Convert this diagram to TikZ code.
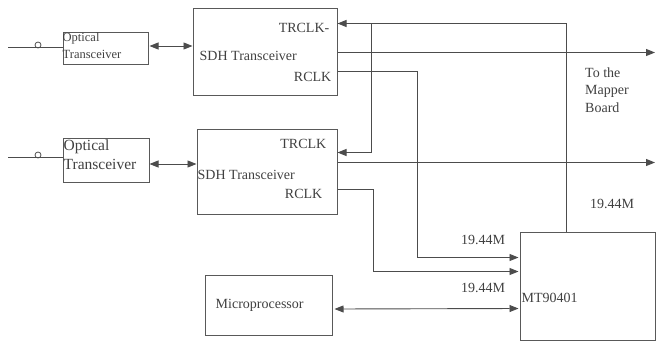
\documentclass[tikz,border=0pt]{standalone}
\usepackage{fontspec}
\setmainfont{Liberation Serif}
\usetikzlibrary{%
	positioning,
	calc,
	arrows.meta
}

\begin{document}
\begin{tikzpicture}[x=1pt,y=-1pt,
		SBox/.style={draw=black!65,line width=1pt,shape=rectangle,inner sep=0pt},
		SText/.style={font=\fontsize{14}{17.5}\selectfont,text=black!75,inner sep=1pt},
		OText/.style={SText,align=left,anchor=north west},
		wire/.style={draw=black!70,line width=0.9pt},
		tip/.style={wire,-{Triangle[length=9pt,width=7pt]}},
		dtip/.style={wire,{Triangle[length=9pt,width=7pt]}-{Triangle[length=9pt,width=7pt]}}
	]
	\useasboundingbox (0,0) rectangle (663,343);
	
		%SDH
		\node(SDH1) [SBox,minimum width=144pt,minimum height=87pt] at (265,51.5) {};
		\node(trclk1) [SText, below left=20pt and 7pt of SDH1.north east, anchor=east] {TRCLK-};
		\node(sdhT1) [SText, below right=48pt and 6pt of SDH1.north west, anchor=west] {SDH Transceiver};
		\node(rclk1) [SText, below left=69pt and 5pt of SDH1.north east, anchor=east] {RCLK};
		
		\node(SDH2) [SBox,minimum width=140pt,minimum height=85pt, below=33pt of SDH1.south east, anchor=north east] {};
		\node(trclk2) [SText, below left=15pt and 10pt of SDH2.north east, anchor=east] {TRCLK};
		\node(sdhT2) [SText, below right=46pt and 0pt of SDH2.north west, anchor=west] {SDH Transceiver};
		\node(rclk2) [SText, below left=65pt and 14pt of SDH2.north east, anchor=east] {RCLK};
		
		%Optical
		\node(opt1) [SBox,minimum width=85pt,minimum height=32pt] at (105.5,48) {};
		\node(opt1-t) [OText, font=\fontsize{12.5}{17}\selectfont, inner xsep=0pt, inner ysep=0pt, below right=1pt and 0pt of opt1.north west] {Optical\\Transceiver};
		\node(opt2) [SBox,minimum width=86pt,minimum height=44pt] at (106,160) {};
		\node(opt2-t) [OText, font=\fontsize{15.5}{19}\selectfont, inner xsep=0pt, inner ysep=0pt, below right=2pt and 1pt of opt2.north west] {Optical\\Transceiver};
		
		\coordinate (in1) at (8,47);
		\coordinate (in2) at (8,157);
		\draw [wire] (in1) -- (in1 -| opt1.west);
		\draw [wire] (in2) -- (in2 -| opt2.west);
		\node(c1) [circle,draw=black!70,line width=0.8pt,minimum size=6pt,inner sep=0pt] at (38,45) {};
		\node(c2) [circle,draw=black!70,line width=0.8pt,minimum size=6pt,inner sep=0pt] at (38,155) {};
		
		\coordinate (o1) at ($(opt1.east)+(1,-2)$);
		\coordinate (o2) at ($(opt2.east)+(0,4)$);
		\draw [dtip] (o1) -- (o1 -| SDH1.west);
		\draw [dtip] (o2) -- (o2 -| SDH2.west);
		
		%MT90401
		\node(MT) [SBox,minimum width=135pt,minimum height=108pt] at (587.5,286) {};
		\node(MT-t) [SText, below right=12pt and 1pt of MT.west, anchor=west] {MT90401};
		\node(MP) [SBox,minimum width=127pt,minimum height=60pt] at (268.5,305) {};
		\node(MP-t) [SText, right=10pt of MP.west, anchor=west] {Microprocessor};
		
		%clocks
		\coordinate (tr1) at ($(SDH1.north east)+(0,16)$);
		\coordinate (tr2) at ($(SDH2.north east)+(0,24)$);
		\coordinate (mtk) at ($(MT.north west)+(47,0)$);
		\coordinate (j1) at ($(tr1)+(34,0)$);
		\draw [tip] (mtk) |- (tr1);
		\draw [tip] (j1) |- (tr2);
		
		\coordinate (rc1) at ($(SDH1.north east)+(0,64)$);
		\coordinate (rc2) at ($(SDH2.north east)+(0,61)$);
		\coordinate (mt1) at ($(MT.north west)+(-1,26)$);
		\coordinate (mt2) at ($(MT.north west)+(-1,40)$);
		\coordinate (mt3) at ($(MT.north west)+(-1,77)$);
		\draw [tip] (rc1) -- ++(80,0) |- (mt1);
		\draw [tip] (rc2) -- ++(36,0) |- (mt2);
		\coordinate (mp-r) at ($(MP.east)+(2,4)$);
		\draw [dtip] (mp-r) -- (mt3);
		
		%to mapper
		\coordinate (out1) at ($(SDH1.north east)+(0,45)$);
		\coordinate (out2) at ($(SDH2.north east)+(0,34)$);
		\coordinate (map) at (655,0);
		\draw [tip] (out1) -- (out1 -| map);
		\draw [tip] (out2) -- (out2 -| map);
		
		\node(mapper) [SText, align=left, anchor=west] at (584,90) {To the\\Mapper\\Board};
		\node(f1) [SText] at (483,240) {19.44M};
		\node(f2) [SText] at (483,288) {19.44M};
		\node(f3) [SText] at (612,204) {19.44M};
		
\end{tikzpicture}
\end{document}
